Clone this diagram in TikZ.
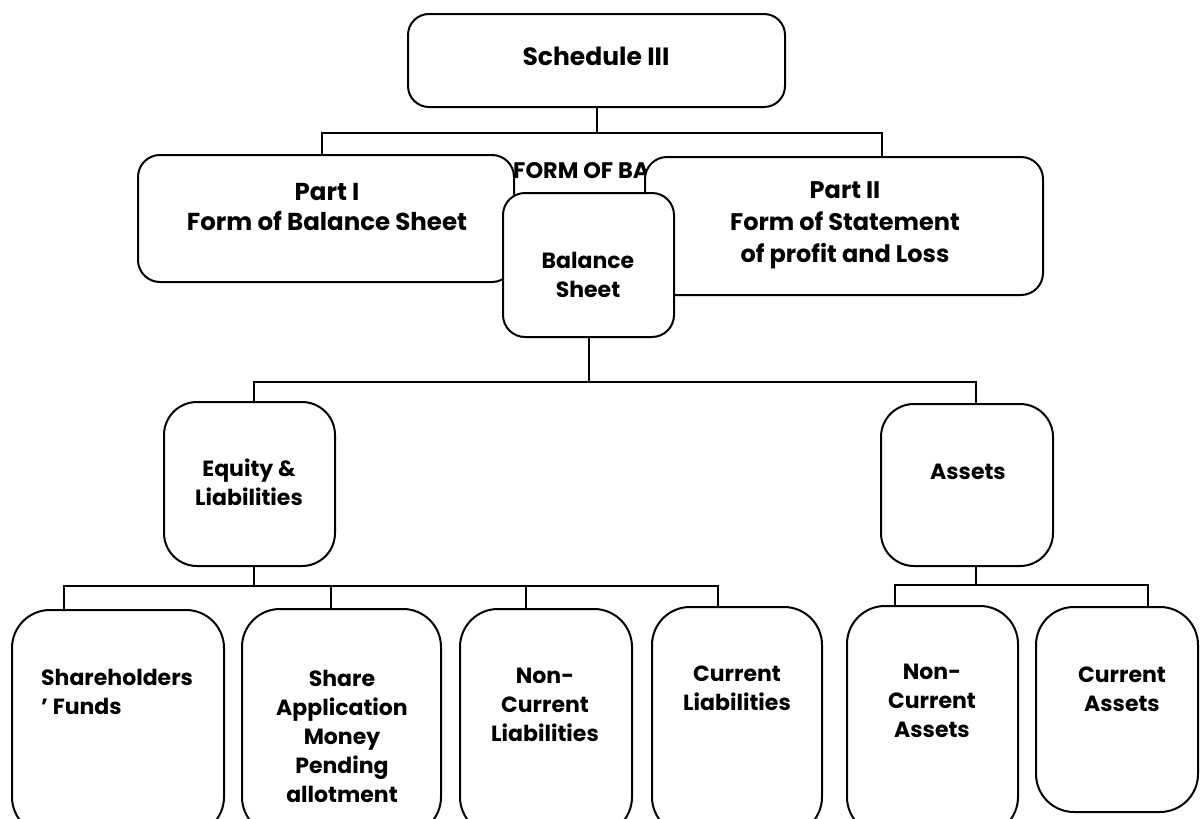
\documentclass[tikz,border=0pt]{standalone}
\usepackage{fontspec}
\setmainfont{Poppins}
\usetikzlibrary{calc}

\tikzset{
  box/.style={draw, line width=2pt, fill=white, inner sep=0pt, rounded corners=#1},
  box/.default=21pt,
  link/.style={line width=2pt},
  lbl/.style={inner sep=0pt, align=center, font=\bfseries\fontsize{22}{29}\selectfont},
  lbltop/.style={inner sep=0pt, align=center, font=\bfseries\fontsize{24.5}{30}\selectfont},
}

% place a rounded box by its corners (x1,y1) and (x2,y2)
\newcommand{\boxat}[6][21pt]{%
  \node[box=#1, minimum width={(#5-#3)*1pt}, minimum height={(#6-#4)*1pt}]
    (#2) at ({(#3+#5)/2},{(#4+#6)/2}) {};}

\begin{document}
\begin{tikzpicture}[x=1pt,y=-1pt]
\useasboundingbox (0,0) rectangle (1200,819);
\fill[white] (0,0) rectangle (1200,819);

% ---- top level -------------------------------------------------------
\boxat{sched}{408}{14}{785}{107}
\coordinate (busAL) at (322,133);
\coordinate (busAR) at (882,133);

\boxat[22pt]{part1}{138}{155}{514}{282}
\node[lbl, anchor=west, font=\bfseries\fontsize{22.5}{26}\selectfont] (formbs) at (513,171) {FORM OF BA};
\boxat[22pt]{part2}{645}{157}{1043}{295}
\boxat[22pt]{bs}{503}{193}{674}{337}

\draw[link] (sched.south) |- (busAL) -- (busAL |- part1.north);
\draw[link] (busAL) -- (busAR) -- (busAR |- part2.north);

\node[lbltop, font=\bfseries\fontsize{25}{30}\selectfont] (tsched) at (596,56) {Schedule III};
\node[lbltop] (tpart1) at (327,207) {Part I\\Form of Balance Sheet};
\node[lbltop, font=\bfseries\fontsize{24}{32}\selectfont] (tpart2) at (845,225) {Part II\\Form of Statement\\of profit and Loss};
\node[lbl] (tbs) at (588,275) {Balance\\Sheet};

% ---- second level ----------------------------------------------------
\coordinate (busBL) at (254,382);
\coordinate (busBR) at (976,382);
\boxat[33pt]{eq}{164}{402}{335}{566}
\boxat[33pt]{assets}{881}{404}{1053}{566}
\draw[link] (bs.south) -- (bs.south |- busBL);
\draw[link] (busBL |- eq.north) -- (busBL) -- (busBR) -- (busBR |- assets.north);

\node[lbl] (teq) at (249,482) {Equity \&\\Liabilities};
\node[lbl] (tassets) at (968,472) {Assets};

% ---- third level -----------------------------------------------------
\boxat[38pt]{sf}{12}{610}{224}{835}
\boxat[38pt]{sa}{242}{609}{441}{835}
\boxat[38pt]{ncl}{460}{609}{632}{835}
\boxat[38pt]{cl}{652}{607}{822}{835}
\boxat[38pt]{nca}{847}{606}{1018}{835}
\boxat[38pt]{ca}{1036}{607}{1198}{812}

\coordinate (e1) at (64,586);
\coordinate (e2) at (331,586);
\coordinate (e3) at (526,586);
\coordinate (e4) at (718,586);
\draw[link] (eq.south -| busBL) -- (busBL |- e1);
\draw[link] (e1 |- sf.north) -- (e1) -- (e4) -- (e4 |- cl.north);
\draw[link] (e2) -- (e2 |- sa.north);
\draw[link] (e3) -- (e3 |- ncl.north);

\coordinate (a1) at (895,585);
\coordinate (a2) at (1148,585);
\draw[link] (assets.south -| busBR) -- (busBR |- a1);
\draw[link] (a1 |- nca.north) -- (a1) -- (a2) -- (a2 |- ca.north);

\node[lbl, align=left, anchor=west] (tsf) at (41,692) {Shareholders\\’ Funds};
\node[lbl] (tsa) at (342,736) {Share\\Application\\Money\\Pending\\allotment};
\node[lbl] (tncl) at (545,705) {Non-\\Current\\Liabilities};
\node[lbl] (tcl) at (737,688) {Current\\Liabilities};
\node[lbl] (tnca) at (932,701) {Non-\\Current\\Assets};
\node[lbl] (tca) at (1122,689) {Current\\Assets};
\end{tikzpicture}
\end{document}
